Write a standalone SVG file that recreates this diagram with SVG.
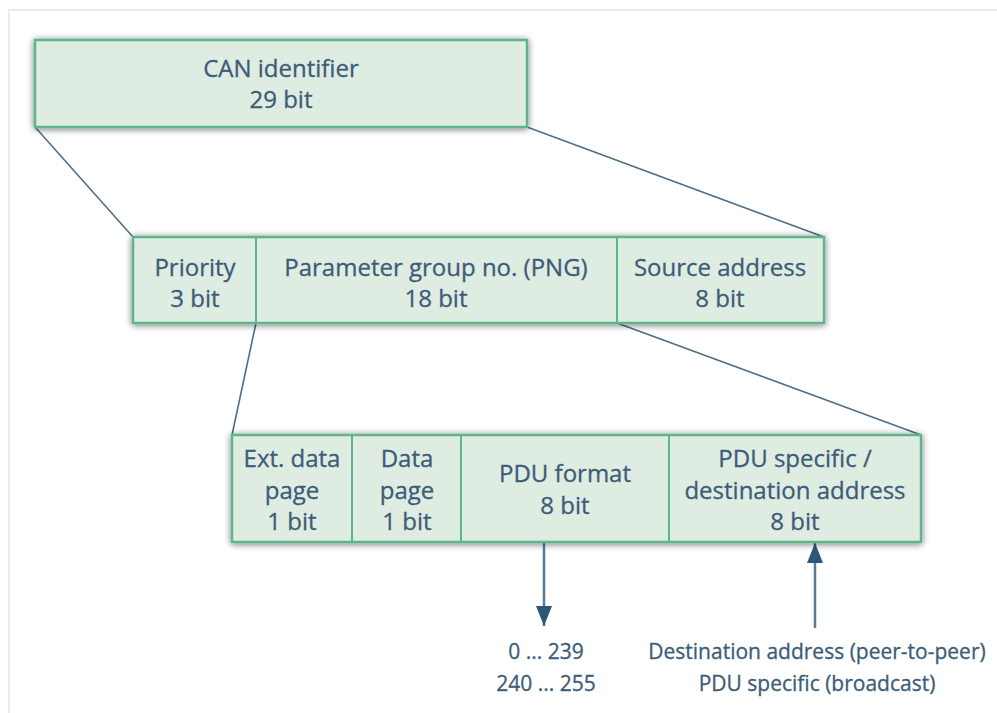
<svg xmlns="http://www.w3.org/2000/svg" width="997" height="713" viewBox="0 0 997 713">
  <defs>
    <filter id="shadow" x="-10%" y="-30%" width="120%" height="160%">
      <feGaussianBlur in="SourceAlpha" stdDeviation="3.5"/>
      <feOffset dx="0" dy="1" result="b"/>
      <feComponentTransfer><feFuncA type="linear" slope="0.55"/></feComponentTransfer>
      <feMerge><feMergeNode/><feMergeNode in="SourceGraphic"/></feMerge>
    </filter>
    <marker id="arrowBig" viewBox="0 0 20 16" refX="20" refY="8" markerWidth="20" markerHeight="16" markerUnits="userSpaceOnUse" orient="auto">
      <path d="M0,0 L20,8 L0,16 Z" fill="#2e5777"/>
    </marker>
  </defs>
  <style>
    .box { fill: #dfece2; stroke: #5eb58b; stroke-width: 2.5; }
    .div { stroke: #5eb58b; stroke-width: 2; }
    .lbl { font-family: "Open Sans", "Liberation Sans", sans-serif; font-size: 24px; fill: #3d5c78; stroke: #3d5c78; stroke-width: 0.3; text-anchor: middle; }
    .sm { font-size: 21px; }
    .conn { stroke: #4f6f8a; stroke-width: 1.6; fill: none; }
    .arr { stroke: #5a7a95; stroke-width: 2.5; fill: none; }
    .frame { stroke: #ececec; stroke-width: 2; fill: none; }
  </style>

  <rect width="997" height="713" fill="#ffffff"/>
  <path class="frame" d="M9,713 V10 H997"/>

  <!-- connectors between levels -->
  <g id="connectors">
    <line class="conn" x1="35" y1="127" x2="133" y2="237"/>
    <line class="conn" x1="527" y1="127" x2="824" y2="237"/>
    <line class="conn" x1="256" y1="323" x2="232" y2="435"/>
    <line class="conn" x1="617" y1="323" x2="921" y2="435"/>
    <line class="arr" x1="544" y1="543" x2="544" y2="626" marker-end="url(#arrowBig)"/>
    <line class="arr" x1="815" y1="628" x2="815" y2="543" marker-end="url(#arrowBig)"/>
  </g>

  <!-- top level: full identifier -->
  <g id="can-identifier">
    <rect class="box" x="35" y="40" width="492" height="87" filter="url(#shadow)"/>
    <text class="lbl" x="281" y="77">CAN identifier</text>
    <text class="lbl" x="281" y="108">29 bit</text>
  </g>

  <!-- middle level -->
  <g id="middle-row">
    <rect class="box" x="133" y="237" width="691" height="86" filter="url(#shadow)"/>
    <line class="div" x1="256" y1="237" x2="256" y2="323"/>
    <line class="div" x1="617" y1="237" x2="617" y2="323"/>
  </g>
  <g id="priority">
    <text class="lbl" x="195" y="276">Priority</text>
    <text class="lbl" x="195" y="307">3 bit</text>
  </g>
  <g id="pgn">
    <text class="lbl" x="436" y="276">Parameter group no. (PNG)</text>
    <text class="lbl" x="436" y="307">18 bit</text>
  </g>
  <g id="source-address">
    <text class="lbl" x="720" y="276">Source address</text>
    <text class="lbl" x="720" y="307">8 bit</text>
  </g>

  <!-- bottom level -->
  <g id="bottom-row">
    <rect class="box" x="232" y="435" width="689" height="107" filter="url(#shadow)"/>
    <line class="div" x1="352" y1="435" x2="352" y2="542"/>
    <line class="div" x1="461" y1="435" x2="461" y2="542"/>
    <line class="div" x1="669" y1="435" x2="669" y2="542"/>
  </g>
  <g id="ext-data-page">
    <text class="lbl" x="292" y="467">Ext. data</text>
    <text class="lbl" x="292" y="499">page</text>
    <text class="lbl" x="292" y="530">1 bit</text>
  </g>
  <g id="data-page">
    <text class="lbl" x="407" y="467">Data</text>
    <text class="lbl" x="407" y="499">page</text>
    <text class="lbl" x="407" y="530">1 bit</text>
  </g>
  <g id="pdu-format">
    <text class="lbl" x="565" y="482">PDU format</text>
    <text class="lbl" x="565" y="514">8 bit</text>
  </g>
  <g id="pdu-specific">
    <text class="lbl" x="795" y="467">PDU specific /</text>
    <text class="lbl" x="795" y="499">destination address</text>
    <text class="lbl" x="795" y="530">8 bit</text>
  </g>

  <!-- value ranges -->
  <g id="format-values">
    <text class="lbl sm" x="546" y="659">0 ... 239</text>
    <text class="lbl sm" x="546" y="691">240 ... 255</text>
  </g>
  <g id="specific-values">
    <text class="lbl sm" x="817" y="659">Destination address (peer-to-peer)</text>
    <text class="lbl sm" x="817" y="691">PDU specific (broadcast)</text>
  </g>
</svg>
